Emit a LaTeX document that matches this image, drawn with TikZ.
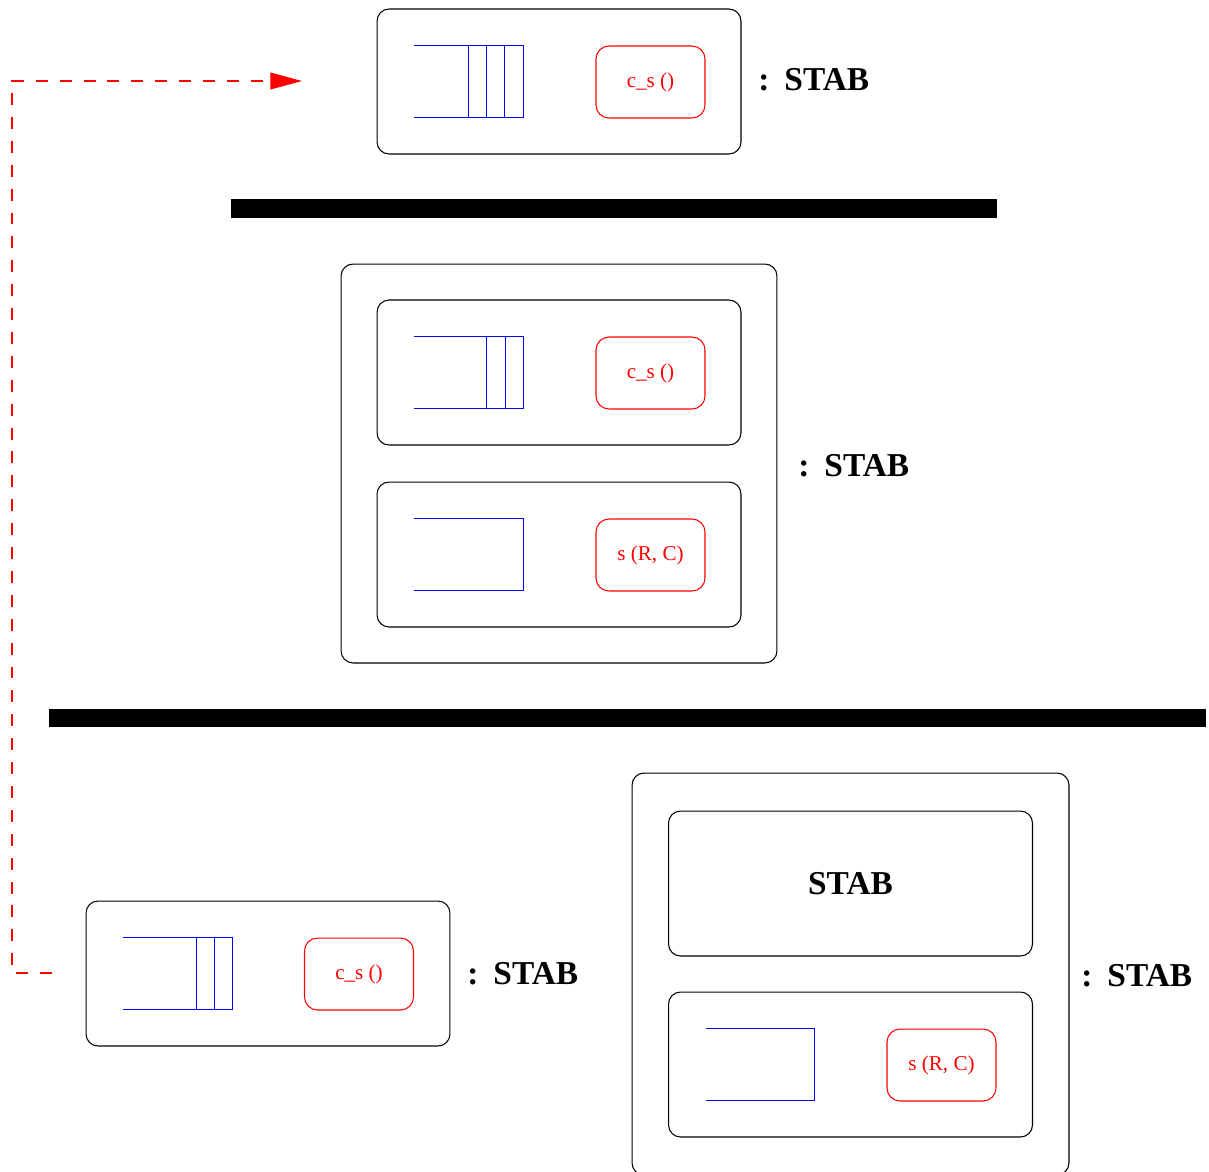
\documentclass[tikz,border=0pt]{standalone}
\usepackage{fontspec}
\setmainfont{Liberation Serif}
\usetikzlibrary{arrows.meta}
\begin{document}
\begin{tikzpicture}[x=0.02cm,y=-0.02cm,
  obox/.style={draw=black, line width=0.6pt, rounded corners=0.24cm, inner sep=0pt, outer sep=0pt,
               minimum width=7.28cm, minimum height=2.9cm},
  bigbox/.style={draw=black, line width=0.6pt, rounded corners=0.24cm, inner sep=0pt, outer sep=0pt,
               minimum width=8.72cm, minimum height=7.98cm},
  fbox/.style={draw=red, line width=0.6pt, rounded corners=0.26cm, inner sep=0pt, outer sep=0pt,
               minimum width=2.18cm, minimum height=1.44cm, text=red, font=\fontsize{12}{14}\selectfont},
  qline/.style={draw=blue, line width=0.5pt},
  lbl/.style={anchor=west, inner sep=0pt, font=\fontsize{19}{22}\selectfont\bfseries},
  bar/.style={fill=black, draw=none},
  link/.style={draw=red, line width=0.85pt, dash pattern=on 6.8pt off 6.8pt,
               -{Triangle[length=18pt,width=9.5pt]}}
]
\useasboundingbox (0,0) rectangle (1209,1171);
\clip (0,0) rectangle (1209,1171);

% ---- top object ----
\node[obox] (top) at (559,81.5) {};
\node[fbox] (topf) at (650.5,82) {c\_s ()};
\draw[qline] (414,45) -- (523,45) -- (523,117) -- (414,117);
\draw[qline] (468,45) -- (468,117) (486,45) -- (486,117) (504.5,45) -- (504.5,117);
\node[lbl] (toplbl) at (758,80) {:\hspace{0.45em}STAB};

% ---- separator ----
\fill[bar] (231,199) rectangle (997,218);

% ---- middle composite ----
\node[bigbox] (mid) at (559,463.5) {};
\node[obox] (midA) at (559,372.5) {};
\node[fbox] (midAf) at (650.5,373) {c\_s ()};
\draw[qline] (414,336) -- (523,336) -- (523,408) -- (414,408);
\draw[qline] (486.5,336) -- (486.5,408) (505,336) -- (505,408);
\node[obox] (midB) at (559,554.5) {};
\node[fbox] (midBf) at (650.5,555) {s (R, C)};
\draw[qline] (414,518) -- (523,518) -- (523,590) -- (414,590);
\node[lbl] (midlbl) at (798,466) {:\hspace{0.45em}STAB};

% ---- separator ----
\fill[bar] (49,709) rectangle (1206,727);

% ---- bottom left object ----
\node[obox] (bl) at (268,973.5) {};
\node[fbox] (blf) at (359,974) {c\_s ()};
\draw[qline] (123,937) -- (232,937) -- (232,1009) -- (123,1009);
\draw[qline] (196,937) -- (196,1009) (214,937) -- (214,1009);
\node[lbl] (bllbl) at (467,974) {:\hspace{0.45em}STAB};

% ---- bottom right composite ----
\node[bigbox, minimum width=8.74cm, minimum height=8.04cm] (br) at (850.5,974) {};
\node[obox, font=\fontsize{19}{22}\selectfont\bfseries] (brA) at (850.5,883.5) {STAB};
\node[obox] (brB) at (850.5,1064.5) {};
\node[fbox] (brBf) at (941.5,1065) {s (R, C)};
\draw[qline] (706,1028) -- (814,1028) -- (814,1100) -- (706,1100);
\node[lbl] (brlbl) at (1081,976) {:\hspace{0.45em}STAB};

% ---- dashed link ----
\coordinate (src) at (52,973);
\coordinate (dst) at (302,81);
\draw[link] (src) -- (12,973) -- (12,81) -- (dst);
\end{tikzpicture}
\end{document}
